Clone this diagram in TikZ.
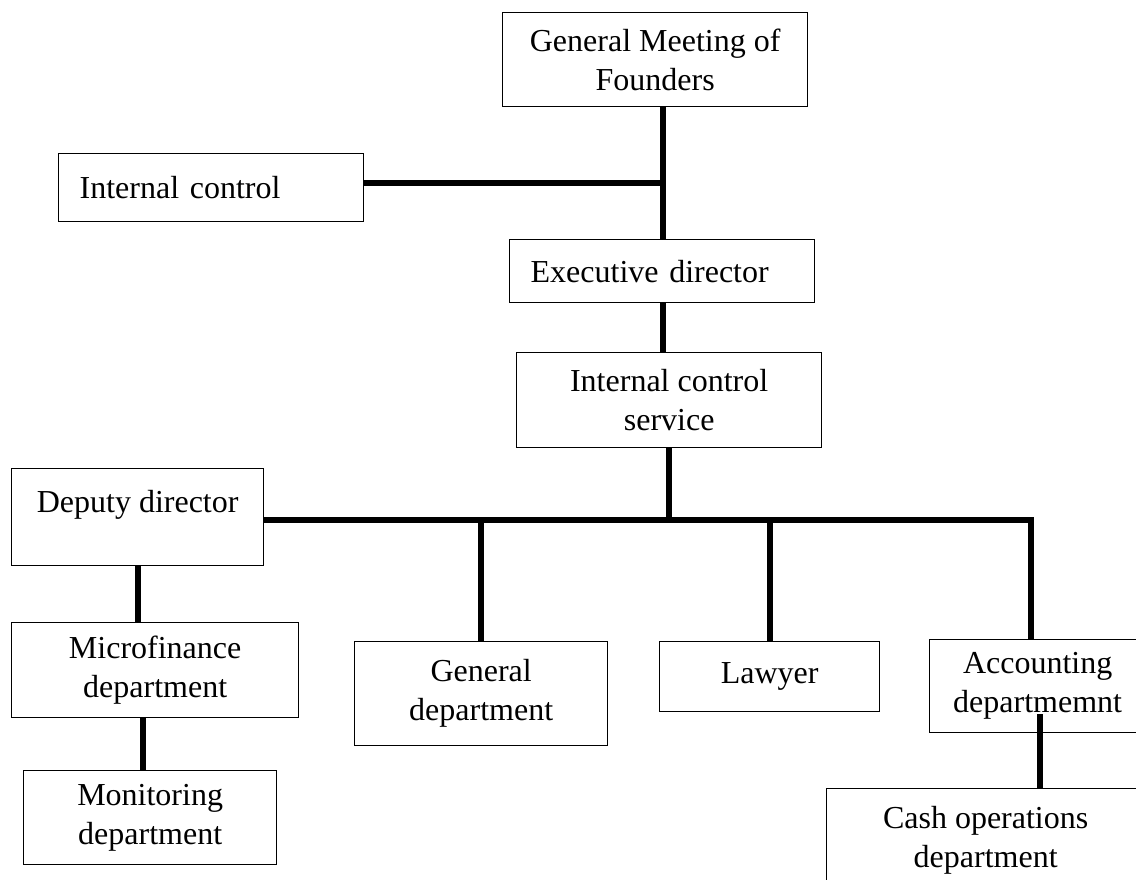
\documentclass[tikz,border=0pt]{standalone}
\usepackage{fontspec}
\setmainfont{Liberation Serif}
\usepackage{tikz}

\begin{document}
\begin{tikzpicture}
[x=1pt, y=-1pt, font=\fontsize{32}{39}\selectfont,
       box/.style={draw, line width=1.3pt, anchor=north west, inner sep=0pt, align=center},
       link/.style={line width=6pt}]
  \useasboundingbox (0,0) rectangle (1136,880);
  \node[box, minimum width=305pt, minimum height=94pt] (gmf) at (502,12) {General Meeting of\\Founders}; % root
  \node[box, text width=263pt, align=left, inner xsep=21pt, minimum height=68pt] (ic) at (58,153) {Internal control};
  \node[box, text width=263pt, align=left, inner xsep=21pt, minimum height=63pt] (ed) at (509,239) {Executive director};
  \node[box, minimum width=305pt, minimum height=95pt] (ics) at (516,352) {Internal control\\service};
  \node[box, minimum width=252pt, minimum height=97pt, text height=22pt, text depth=31pt] (dep) at (11,468) {Deputy director};
  \node[box, minimum width=287pt, minimum height=95pt] (mf) at (11,622) {Microfinance\\department};
  \node[box, minimum width=253pt, minimum height=94pt] (mon) at (23,770) {Monitoring\\department};
  \node[box, minimum width=253pt, minimum height=104pt] (gen) at (354,641) {General\\department};
  \node[box, minimum width=220pt, minimum height=70pt] (law) at (659,641) {Lawyer};
  \node[box, minimum width=216pt, minimum height=93pt] (acc) at (929,639) {Accounting\\departmemnt};
  \node[box, minimum width=318pt, minimum height=104pt] (cash) at (826,788) {Cash operations\\department};
  % junctions
  \coordinate (j1) at (663,183);
  \coordinate (bus) at (669,520);
  \draw[link] (gmf.south -| j1) -- (ed.north -| j1);
  \draw[link] (ic.east |- j1) -- (j1);
  \draw[link] (ed.south -| j1) -- (ics.north -| j1);
  \draw[link] (ics.south -| bus) -- (bus);
  \draw[link] (dep.east |- bus) -| ([xshift=-7pt]acc.north);
  \foreach \n in {gen, law}
    \draw[link] (\n.north |- bus) -- (\n.north);
  \draw[link] (dep.south) -- (dep.south |- mf.north);
  \draw[link] ([xshift=-12pt]mf.south) -- ([xshift=-12pt]mf.south |- mon.north);
  \draw[link] ([xshift=2pt,yshift=19pt]acc.south) -- ([xshift=2pt]acc.south |- cash.north); %
\end{tikzpicture}
\end{document}
